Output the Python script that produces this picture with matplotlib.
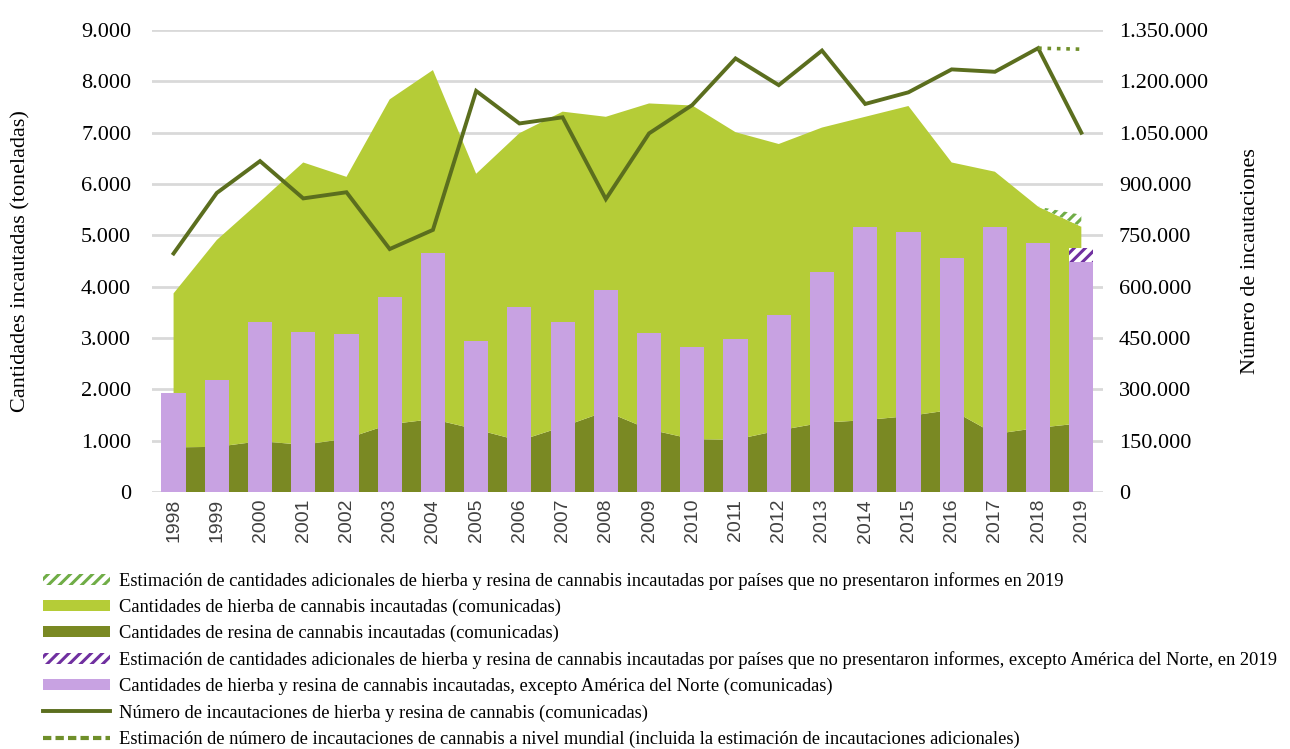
import numpy as np
import matplotlib
matplotlib.use("Agg")
from matplotlib import pyplot as plt
from matplotlib.patches import Patch
from matplotlib.lines import Line2D
from matplotlib.ticker import FuncFormatter

years = np.arange(1998, 2020)

# toneladas, hierba + resina comunicadas (borde superior del area)
total_reported = [3870, 4910, 5660, 6420, 6140, 7650, 8220, 6200, 6990, 7410, 7310,
                  7570, 7530, 7010, 6780, 7100, 7310, 7520, 6420, 6240, 5560, 5170]
resin = [870, 880, 990, 920, 1040, 1320, 1420, 1220, 1000, 1270, 1570,
         1220, 1030, 1020, 1200, 1350, 1400, 1480, 1600, 1130, 1250, 1340]
herb = [t - r for t, r in zip(total_reported, resin)]
est_years = [2018, 2019]
est_extra = [0, 230]

# hierba y resina excepto America del Norte
excl_na = [1930, 2180, 3320, 3120, 3080, 3800, 4650, 2950, 3610, 3320, 3940,
           3100, 2830, 2980, 3450, 4290, 5170, 5070, 4560, 5170, 4860, 4490]
excl_na_est_2019 = 270

# numero de incautaciones
seizures = [697000, 874000, 967000, 858000, 876000, 710000, 766000, 1172000, 1077000,
            1095000, 856000, 1048000, 1131000, 1267000, 1189000, 1290000, 1134000,
            1168000, 1235000, 1228000, 1297000, 1050000]
seizures_est = [1297000, 1294000]

c_herb = "#b5cc37"
c_resin = "#7a8923"
c_purple = "#c8a2e2"
c_line = "#5b6e1e"
c_hatch_green = "#70ad47"
c_hatch_purple = "#7030a0"

plt.rcParams["hatch.linewidth"] = 2.2
serif = ["Liberation Serif", "DejaVu Serif"]

fig = plt.figure(figsize=(12.9, 7.49), dpi=100)
ax = fig.add_axes([0.1178, 0.3431, 0.7372, 0.6168])
ax2 = ax.twinx()

ax.stackplot(years, resin, herb, colors=[c_resin, c_herb], linewidth=0, zorder=2)
base = [total_reported[-2], total_reported[-1]]
top = [b + e for b, e in zip(base, est_extra)]
ax.fill_between(est_years, base, top, facecolor="white", edgecolor=c_hatch_green,
                hatch="///", linewidth=0, zorder=2)

ax.bar(years, excl_na, width=0.56, color=c_purple, zorder=3)
ax.bar(years[-1], excl_na_est_2019, bottom=excl_na[-1], width=0.56, facecolor="white",
       edgecolor=c_hatch_purple, hatch="///", linewidth=0, zorder=3)

ax2.plot(years, seizures, color=c_line, lw=2.8, solid_joinstyle="miter", zorder=4)
ax2.plot(est_years, seizures_est, color="#6f8f2a", lw=2.6, linestyle=(0, (1, 1.6)), zorder=4)

ax.set_xlim(1997.5, 2019.5)
ax.set_ylim(0, 9000)
ax2.set_ylim(0, 1350000)
ax.set_yticks(np.arange(0, 9001, 1000))
ax2.set_yticks(np.arange(0, 1350001, 150000))
ax.grid(axis="y", color="#d9d9d9", lw=2)
ax.set_axisbelow(True)

fmt = FuncFormatter(lambda v, p: f"{v:,.0f}".replace(",", "."))
ax.yaxis.set_major_formatter(fmt)
ax2.yaxis.set_major_formatter(fmt)

ax.set_xticks(years)
ax.set_xticklabels([str(y) for y in years], rotation=90, fontsize=14,
                   family=["Liberation Sans", "DejaVu Sans"], color="#404040")
for a in (ax, ax2):
    for s in a.spines.values():
        s.set_visible(False)
ax.tick_params(axis="x", length=0, pad=5)
ax.tick_params(axis="y", length=0, pad=15)
ax2.tick_params(axis="y", length=0, pad=11.5)
for lab in ax.get_yticklabels() + ax2.get_yticklabels():
    lab.set_family(serif)
    lab.set_fontsize(16)

ax.set_ylabel("Cantidades incautadas (toneladas)", family=serif, fontsize=16)
ax.yaxis.set_label_coords(-0.128, 0.5)
ax2.set_ylabel("Número de incautaciones", family=serif, fontsize=16, rotation=90)
ax2.yaxis.set_label_coords(1.145, 0.5)

handles = [
    Patch(facecolor="white", edgecolor=c_hatch_green, hatch="///", linewidth=0),
    Patch(facecolor=c_herb, linewidth=0),
    Patch(facecolor=c_resin, linewidth=0),
    Patch(facecolor="white", edgecolor=c_hatch_purple, hatch="///", linewidth=0),
    Patch(facecolor=c_purple, linewidth=0),
    Line2D([], [], color=c_line, lw=2.8),
    Line2D([], [], color="#6f8f2a", lw=3, linestyle=(0, (2, 1))),
]
labels = [
    "Estimación de cantidades adicionales de hierba y resina de cannabis incautadas por países que no presentaron informes en 2019",
    "Cantidades de hierba de cannabis incautadas (comunicadas)",
    "Cantidades de resina de cannabis incautadas (comunicadas)",
    "Estimación de cantidades adicionales de hierba y resina de cannabis incautadas por países que no presentaron informes, excepto América del Norte, en 2019",
    "Cantidades de hierba y resina de cannabis incautadas, excepto América del Norte (comunicadas)",
    "Número de incautaciones de hierba y resina de cannabis (comunicadas)",
    "Estimación de número de incautaciones de cannabis a nivel mundial (incluida la estimación de incautaciones adicionales)",
]
fig.legend(handles, labels, loc="upper left", bbox_to_anchor=(0.0335, 0.236),
           frameon=False, prop={"family": serif, "size": 13.3},
           handlelength=3.6, handleheight=0.55, handletextpad=0.5,
           labelspacing=0.48, borderpad=0, borderaxespad=0)

fig.savefig("out.png", dpi=100)
